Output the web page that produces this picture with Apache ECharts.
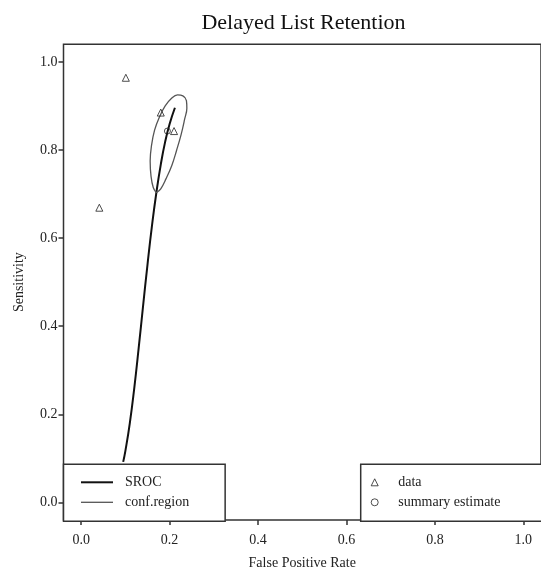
<!DOCTYPE html>
<html>
<head>
<meta charset="utf-8">
<script src="https://cdn.jsdelivr.net/npm/echarts@6/dist/echarts.min.js"></script>
<style>
  html, body { margin: 0; padding: 0; background: #fff; }
  #chart { width: 541px; height: 575px; }
</style>
</head>
<body>
<div id="chart"></div>
<script>
// ---- data ----
const titleText = 'Delayed List Retention';
const xName = 'False Positive Rate';
const yName = 'Sensitivity';
const xTickValues = [0, 0.2, 0.4, 0.6, 0.8, 1.0];
const yTickValues = [0, 0.2, 0.4, 0.6, 0.8, 1.0];

// study data points (triangles)
const dataFpr  = [0.101, 0.041, 0.180, 0.210];
const dataSens = [0.964, 0.669, 0.885, 0.843];

// summary estimate (circle)
const summaryFpr  = [0.195];
const summarySens = [0.843];

// SROC curve
const srocFpr  = [0.095, 0.100, 0.110, 0.120, 0.130, 0.140, 0.150, 0.160, 0.170, 0.180, 0.190, 0.200, 0.212];
const srocSens = [0.092, 0.117, 0.180, 0.259, 0.350, 0.446, 0.540, 0.627, 0.703, 0.767, 0.819, 0.859, 0.896];

// confidence region outline
const ellipseFpr  = [0.170, 0.180, 0.192, 0.205, 0.216, 0.226, 0.234, 0.239, 0.238, 0.230, 0.218, 0.205, 0.190, 0.177, 0.166, 0.159, 0.156, 0.158, 0.163, 0.170];
const ellipseSens = [0.703, 0.712, 0.735, 0.765, 0.800, 0.835, 0.870, 0.895, 0.912, 0.923, 0.925, 0.918, 0.900, 0.875, 0.845, 0.810, 0.775, 0.740, 0.715, 0.703];

const zip = (a, b) => a.map((v, i) => [v, b[i]]);
const FONT = 'Liberation Serif';
const INK = '#333';
const NO_MARK = { color: 'rgba(0,0,0,0)', borderColor: 'rgba(0,0,0,0)', borderWidth: 0 };

const chart = echarts.init(document.getElementById('chart'), null, { renderer: 'canvas' });

const axisCommon = {
  type: 'value',
  min: -0.04,
  max: 1.04,
  splitLine: { show: false },
  axisLine: { show: false, onZero: false },
  nameLocation: 'middle',
  nameTextStyle: { fontFamily: FONT, fontSize: 14, color: '#222' }
};

chart.setOption({
  backgroundColor: '#fff',
  animation: false,
  title: {
    text: titleText,
    left: 298.5,
    textAlign: 'center',
    top: 7,
    textStyle: { fontFamily: FONT, fontSize: 22, fontWeight: 'normal', color: '#111' }
  },
  grid: {
    left: 63.5, top: 44.3, right: -3.5, bottom: 53.3,
    show: true, borderColor: INK, borderWidth: 1.5, backgroundColor: 'transparent'
  },
  xAxis: Object.assign({}, axisCommon, {
    name: xName,
    nameGap: 36,
    axisTick: { show: true, length: 5, customValues: xTickValues, lineStyle: { color: INK, width: 1.5 } },
    axisLabel: {
      customValues: xTickValues, margin: 13,
      fontFamily: FONT, fontSize: 14, color: '#222',
      formatter: v => v.toFixed(1)
    }
  }),
  yAxis: Object.assign({}, axisCommon, {
    name: yName,
    nameGap: 37,
    nameRotate: 90,
    axisTick: { show: true, length: 5, customValues: yTickValues, lineStyle: { color: INK, width: 1.5 } },
    axisLabel: {
      customValues: yTickValues, margin: 6,
      fontFamily: FONT, fontSize: 14, color: '#222',
      formatter: v => v.toFixed(1)
    }
  }),
  legend: [
    {
      orient: 'vertical',
      left: 63.5, top: 464.3,
      padding: [11, 36, 12, 16.5],
      itemWidth: 32, itemHeight: 14, itemGap: 6,
      backgroundColor: '#fff', borderColor: INK, borderWidth: 1.5, borderRadius: 0,
      selectedMode: false,
      textStyle: { fontFamily: FONT, fontSize: 14, color: '#222', padding: [0, 0, 0, 7] },
      data: [
        { name: 'SROC', lineStyle: { width: 2, color: '#111' }, itemStyle: NO_MARK },
        { name: 'conf.region', lineStyle: { width: 1.3, color: '#555' }, itemStyle: NO_MARK }
      ]
    },
    {
      orient: 'vertical',
      left: 360.7, top: 464.3,
      padding: [11, 300, 12, 10],
      itemWidth: 7, itemHeight: 7, itemGap: 6,
      backgroundColor: '#fff', borderColor: INK, borderWidth: 1.5, borderRadius: 0,
      selectedMode: false,
      textStyle: { fontFamily: FONT, fontSize: 14, color: '#222', padding: [0, 0, 0, 15] },
      data: [
        { name: 'data', icon: 'triangle', itemStyle: { color: 'rgba(0,0,0,0)', borderColor: '#222', borderWidth: 1 } },
        { name: 'summary estimate', icon: 'circle', itemStyle: { color: 'rgba(0,0,0,0)', borderColor: '#222', borderWidth: 1 } }
      ]
    }
  ],
  series: [
    {
      name: 'SROC', type: 'line', data: zip(srocFpr, srocSens),
      symbol: 'none', smooth: true, color: '#111',
      lineStyle: { color: '#111', width: 2 }, z: 2
    },
    {
      name: 'conf.region', type: 'line', data: zip(ellipseFpr, ellipseSens),
      symbol: 'none', smooth: 0.4, color: '#555',
      lineStyle: { color: '#555', width: 1.3 }, z: 2
    },
    {
      name: 'data', type: 'scatter', data: zip(dataFpr, dataSens),
      symbol: 'triangle', symbolSize: 7,
      itemStyle: { color: 'rgba(0,0,0,0)', borderColor: '#222', borderWidth: 1 }, z: 3
    },
    {
      name: 'summary estimate', type: 'scatter', data: zip(summaryFpr, summarySens),
      symbol: 'circle', symbolSize: 6,
      itemStyle: { color: 'rgba(0,0,0,0)', borderColor: '#222', borderWidth: 1 }, z: 3
    }
  ]
});
</script>
</body>
</html>
